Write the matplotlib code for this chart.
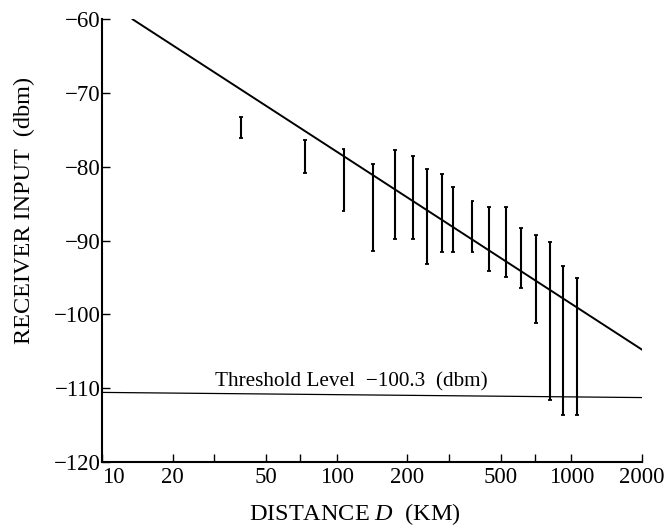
import numpy as np
import matplotlib
matplotlib.use('Agg')
import matplotlib.pyplot as plt
from matplotlib.ticker import FixedLocator, NullFormatter, NullLocator

plt.rcParams['font.family'] = ['Liberation Serif', 'DejaVu Serif']
plt.rcParams['mathtext.fontset'] = 'custom'
plt.rcParams['mathtext.it'] = 'Liberation Serif:italic'

# Measured spread of receiver input at each path length
distance_km = [39, 73, 107, 143, 177, 211, 243, 281, 313, 379,
               445, 525, 610, 705, 808, 921, 1059]
level_top = [-73.3, -76.4, -77.6, -79.6, -77.7, -78.6, -80.3, -81.0, -82.8, -84.6,
             -85.4, -85.4, -88.3, -89.3, -90.2, -93.4, -95.1]
level_bottom = [-76.1, -80.9, -86.0, -91.4, -89.8, -89.8, -93.2, -91.5, -91.5, -91.5,
                -94.1, -94.9, -96.5, -101.2, -111.6, -113.6, -113.6]

# Predicted level (end points of the straight line on the log scale)
pred_d = [13.5, 2000]
pred_level = [-60.0, -104.8]

# Threshold level line
thr_d = [10, 2000]
thr_level = [-110.6, -111.3]

x_ticks = [10, 20, 30, 50, 70, 100, 200, 300, 500, 700, 1000, 2000]
x_labels = {10: '10', 20: '20', 50: '50', 100: '100', 200: '200',
            500: '500', 1000: '1000', 2000: '2000'}
y_ticks = [-60, -70, -80, -90, -100, -110, -120]

fig = plt.figure(figsize=(6.67, 5.26), dpi=100)
ax = fig.add_axes([0.153, 0.1222, 0.8095, 0.8411])

ax.plot(pred_d, pred_level, color='black', lw=1.4)
ax.plot(thr_d, thr_level, color='black', lw=0.9)

d = np.array(distance_km, dtype=float)
top = np.array(level_top)
bot = np.array(level_bottom)
ax.vlines(d, bot, top, color='black', lw=1.5)
cap = 0.008  # half cap width in decades
ax.hlines(top, d * 10**-cap, d * 10**cap, color='black', lw=1.3)
ax.hlines(bot, d * 10**-cap, d * 10**cap, color='black', lw=1.3)

ax.text(30.3, -109.8, 'Threshold Level  \u2212100.3  (dbm)', fontsize=15.3,
        ha='left', va='baseline')

ax.set_xscale('log')
ax.set_xlim(10, 2000)
ax.set_ylim(-120, -60)

ax.xaxis.set_major_locator(FixedLocator(x_ticks))
ax.xaxis.set_minor_locator(NullLocator())
ax.set_xticklabels([x_labels.get(t, '') for t in x_ticks])
ax.xaxis.set_minor_formatter(NullFormatter())
ax.set_yticks(y_ticks)
ax.set_yticklabels(['\u2212' + str(-v) for v in y_ticks])

ax.tick_params(axis='both', direction='in', length=6, width=1.0,
               labelsize=16.5)
ax.tick_params(axis='x', pad=4)
ax.tick_params(axis='y', pad=1)
# first distance label sits just right of the corner
ax.get_xticklabels()[0].set_horizontalalignment('left')

for s in ['top', 'right']:
    ax.spines[s].set_visible(False)
for s in ['left', 'bottom']:
    ax.spines[s].set_linewidth(1.5)

ax.set_xlabel('DISTANCE $D$  (KM)', fontsize=17.5)
ax.set_ylabel('RECEIVER INPUT  (dbm)', fontsize=17.5)
ax.xaxis.set_label_coords(0.4676, -0.088)
ax.yaxis.set_label_coords(-0.125, 0.567)

fig.savefig('out.png', dpi=100)
